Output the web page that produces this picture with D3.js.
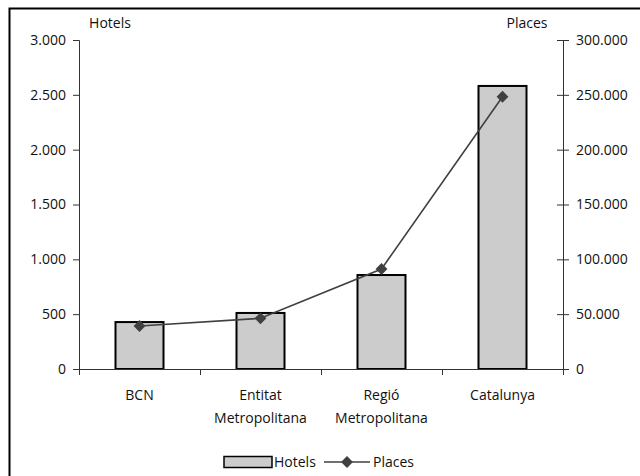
<!DOCTYPE html>
<html>
<head>
<meta charset="utf-8">
<script src="https://cdn.jsdelivr.net/npm/d3@7"></script>
<style>
  body { margin: 0; background: #fff; }
  text { font-family: "Open Sans", sans-serif; fill: #111; }
</style>
</head>
<body>
<div id="chart"></div>
<script>
// Data
const categories = [["BCN"], ["Entitat", "Metropolitana"], ["Regió", "Metropolitana"], ["Catalunya"]];
const hotels = [428, 511, 857, 2581];
const places = [39200, 46200, 91200, 248300];
const hotelTicks = [0, 500, 1000, 1500, 2000, 2500, 3000];
const placeTicks = [0, 50000, 100000, 150000, 200000, 250000, 300000];

const W = 640, H = 476;
const plot = { left: 79, right: 563, top: 40, bottom: 369 };
const fmt = d => d3.format(",")(d).replace(/,/g, ".");

const svg = d3.select("#chart").append("svg")
  .attr("width", W).attr("height", H);

// outer frame (only top and left edges are in view)
svg.append("path")
  .attr("d", `M9.5,${H} L9.5,8.5 L${W},8.5`)
  .attr("fill", "none").attr("stroke", "#000").attr("stroke-width", 2);

const x = d3.scaleBand().domain(d3.range(categories.length))
  .range([plot.left, plot.right]).paddingInner(0.6).paddingOuter(0.3);
const xCenter = i => x(i) + x.bandwidth() / 2;
const step = (plot.right - plot.left) / categories.length;

const yL = d3.scaleLinear().domain([0, 3000]).range([plot.bottom, plot.top]);
const yR = d3.scaleLinear().domain([0, 300000]).range([plot.bottom, plot.top]);

// 1) bars
svg.selectAll("rect.bar").data(hotels).enter().append("rect")
  .attr("class", "bar")
  .attr("x", (d, i) => plot.left + step * i + step / 2 - 24)
  .attr("width", 48)
  .attr("y", d => yL(d))
  .attr("height", d => yL(0) - yL(d))
  .attr("fill", "#cccccc").attr("stroke", "#000").attr("stroke-width", 2);

// 2) axes
const left = svg.append("g").attr("transform", `translate(${plot.left},0)`)
  .call(d3.axisLeft(yL).tickValues(hotelTicks).tickFormat(fmt).tickSizeOuter(0).tickSize(6).tickPadding(7));
const right = svg.append("g").attr("transform", `translate(${plot.right},0)`)
  .call(d3.axisRight(yR).tickValues(placeTicks).tickFormat(fmt).tickSizeOuter(0).tickSize(6).tickPadding(7));
right.selectAll(".tick line").attr("x1", -6);

const xs = d3.scaleLinear().domain([0, categories.length]).range([plot.left, plot.right]);
const bottom = svg.append("g").attr("transform", `translate(0,${plot.bottom})`)
  .call(d3.axisBottom(xs).tickValues(d3.range(categories.length + 1)).tickFormat("").tickSizeOuter(0).tickSize(6));

[left, right, bottom].forEach(g => {
  g.selectAll("path.domain").attr("stroke", "#333").attr("stroke-width", 1);
  g.selectAll(".tick line").attr("stroke", "#333");
  g.selectAll(".tick text").style("font-size", "14px").attr("fill", "#111");
});

// category labels
const cat = svg.selectAll("text.cat").data(categories).enter().append("text")
  .attr("class", "cat")
  .attr("text-anchor", "middle")
  .style("font-size", "14px");
cat.selectAll("tspan").data((d, i) => d.map(s => ({ s, i }))).enter().append("tspan")
  .attr("x", d => plot.left + step * d.i + step / 2)
  .attr("y", (d, j) => 400 + j * 23)
  .text(d => d.s);

// axis titles
svg.append("text").attr("x", 110).attr("y", 28).attr("text-anchor", "middle")
  .style("font-size", "14px").text("Hotels");
svg.append("text").attr("x", 527).attr("y", 28).attr("text-anchor", "middle")
  .style("font-size", "14px").text("Places");

// 3) line with diamond markers
const line = d3.line().x((d, i) => plot.left + step * i + step / 2).y(d => yR(d));
svg.append("path").datum(places)
  .attr("d", line).attr("fill", "none").attr("stroke", "#404040").attr("stroke-width", 1.6);

const diamond = d3.symbol().type(d3.symbolDiamond2).size(90);
svg.selectAll("path.pt").data(places).enter().append("path")
  .attr("class", "pt")
  .attr("d", diamond)
  .attr("transform", (d, i) => `translate(${plot.left + step * i + step / 2},${yR(d)})`)
  .attr("fill", "#404040");

// 4) legend
const lg = svg.append("g").attr("transform", "translate(0,462)");
lg.append("rect").attr("x", 224).attr("y", -5.5).attr("width", 48).attr("height", 11)
  .attr("fill", "#cccccc").attr("stroke", "#000").attr("stroke-width", 1.5);
lg.append("text").attr("x", 274).attr("y", 5).style("font-size", "14px").text("Hotels");
lg.append("line").attr("x1", 324).attr("x2", 370).attr("y1", 0).attr("y2", 0)
  .attr("stroke", "#404040").attr("stroke-width", 1.6);
lg.append("path").attr("d", diamond).attr("transform", "translate(347,0)").attr("fill", "#404040");
lg.append("text").attr("x", 373).attr("y", 5).style("font-size", "14px").text("Places");
</script>
</body>
</html>
